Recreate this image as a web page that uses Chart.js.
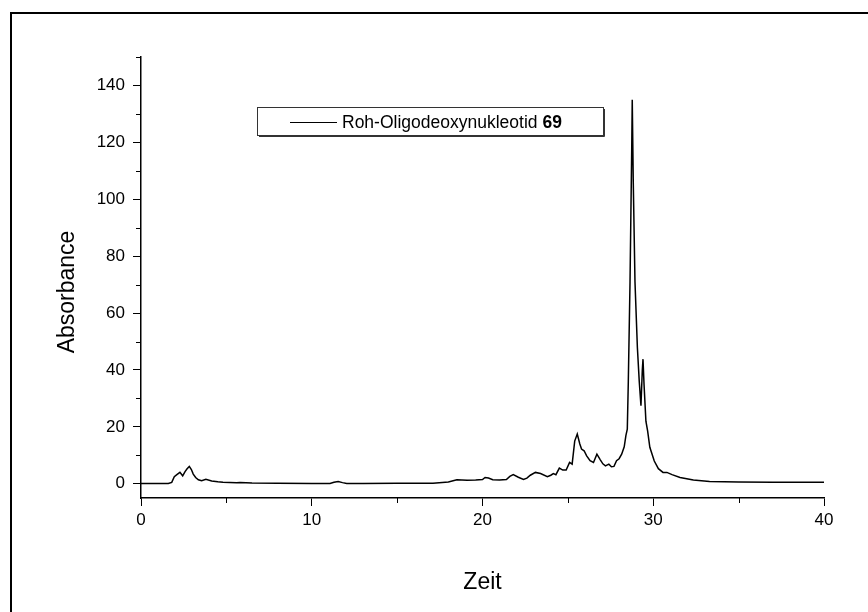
<!DOCTYPE html>
<html>
<head>
<meta charset="utf-8">
<script src="https://cdn.jsdelivr.net/npm/chart.js@4"></script>
<style>
  html, body { margin: 0; padding: 0; background: #fff; }
  #wrap { width: 868px; height: 612px; }
</style>
</head>
<body>
<div id="wrap"><canvas id="c" width="868" height="612"></canvas></div>
<script>
// Retention time (min) and absorbance of the crude oligodeoxynucleotide trace
const times = [
  0, 1.0, 1.6, 1.8, 1.95, 2.1, 2.28, 2.44, 2.58, 2.7, 2.83, 2.95, 3.06, 3.2, 3.36, 3.55, 3.8, 4.14, 4.5, 4.8,
  5.6, 5.8, 6.5, 8, 10, 11.07, 11.3, 11.55, 11.8, 12.05, 13, 15, 16, 17.1, 18, 18.5, 19.1, 19.6, 20.0, 20.15,
  20.35, 20.6, 21.0, 21.4, 21.6, 21.8, 22.1, 22.4, 22.6, 22.8, 23.1, 23.4, 23.8, 24.0, 24.15, 24.3, 24.5, 24.7,
  24.9, 25.1, 25.25, 25.4, 25.55, 25.7, 25.8, 25.95, 26.1, 26.3, 26.5, 26.7, 26.9, 27.05, 27.2, 27.4, 27.55,
  27.7, 27.85, 28.0, 28.15, 28.3, 28.4, 28.48, 28.54, 28.64, 28.74, 28.77, 28.83, 28.93, 29.07, 29.18, 29.28,
  29.36, 29.4, 29.46, 29.57, 29.67, 29.8, 30.06, 30.3, 30.57, 30.8, 31.1, 31.57, 32.35, 33.3, 35, 37, 40
];
const absorbance = [
  0.1, 0.1, 0.1, 0.5, 2.5, 3.2, 4.0, 2.8, 4.3, 5.3, 6.1, 5.0, 3.4, 2.2, 1.4, 1.05, 1.6, 1.0, 0.7, 0.5,
  0.4, 0.45, 0.3, 0.2, 0.1, 0.1, 0.5, 0.8, 0.4, 0.1, 0.1, 0.15, 0.2, 0.2, 0.6, 1.4, 1.2, 1.3, 1.5, 2.2,
  2.0, 1.4, 1.3, 1.5, 2.6, 3.2, 2.3, 1.5, 2.0, 3.0, 4.0, 3.6, 2.5, 3.0, 3.6, 3.2, 5.5, 4.8,
  4.8, 7.5, 6.9, 15, 17.5, 14, 12.2, 11.6, 9.8, 8.1, 7.5, 10.4, 8.4, 7.0, 6.3, 6.9, 6.0,
  6.1, 8.1, 8.8, 10.4, 13, 17.0, 19.2, 36, 71, 118, 135, 106, 71, 48, 36, 27.4,
  40, 43.8, 35, 22, 18.6, 12.8, 8.0, 5.3, 4.0, 4.0, 3.2, 2.2, 1.3, 0.8, 0.6, 0.55, 0.5
];

const xTicks = [0, 10, 20, 30, 40];
const xMinorTicks = [5, 15, 25, 35];
const yTicks = [0, 20, 40, 60, 80, 100, 120, 140];
const yMinorTicks = [10, 30, 50, 70, 90, 110, 130, 150];

const xTitle = 'Zeit';
const yTitle = 'Absorbance';
const seriesName = 'Roh-Oligodeoxynukleotid';
const seriesNumber = '69';

const FONT = '"Liberation Sans", Arial, sans-serif';
const points = times.map((t, i) => ({ x: t, y: absorbance[i] }));

// Minor ticks, axis titles, legend box and page frame
const decorations = {
  id: 'decorations',
  afterDraw(chart) {
    const ctx = chart.ctx;
    const xs = chart.scales.x, ys = chart.scales.y;
    const area = chart.chartArea;
    ctx.save();
    ctx.strokeStyle = '#000';
    ctx.lineWidth = 1;
    ctx.beginPath();
    xMinorTicks.forEach(v => {
      const px = Math.round(xs.getPixelForValue(v)) + 0.5;
      ctx.moveTo(px, area.bottom);
      ctx.lineTo(px, area.bottom + 5);
    });
    yMinorTicks.forEach(v => {
      const py = Math.round(ys.getPixelForValue(v)) + 0.5;
      ctx.moveTo(area.left, py);
      ctx.lineTo(area.left - 5, py);
    });
    ctx.stroke();

    // axis titles
    ctx.fillStyle = '#000';
    ctx.font = '23px ' + FONT;
    ctx.textAlign = 'center';
    ctx.textBaseline = 'middle';
    ctx.fillText(xTitle, (area.left + area.right) / 2, 583);
    ctx.save();
    ctx.translate(68, 292);
    ctx.rotate(-Math.PI / 2);
    ctx.fillText(yTitle, 0, 0);
    ctx.restore();

    // legend
    const bx = 257, by = 107, bw = 346, bh = 28;
    ctx.fillStyle = '#fff';
    ctx.fillRect(bx, by, bw, bh);
    ctx.strokeStyle = '#333';
    ctx.lineWidth = 1;
    ctx.strokeRect(bx + 0.5, by + 0.5, bw, bh);
    ctx.beginPath();
    ctx.moveTo(bx + bw + 1.5, by + 2);
    ctx.lineTo(bx + bw + 1.5, by + bh + 1.5);
    ctx.lineTo(bx + 2, by + bh + 1.5);
    ctx.stroke();
    ctx.strokeStyle = '#000';
    ctx.lineWidth = 1.2;
    ctx.beginPath();
    ctx.moveTo(290, 122.5);
    ctx.lineTo(337, 122.5);
    ctx.stroke();
    ctx.fillStyle = '#000';
    ctx.textAlign = 'left';
    ctx.textBaseline = 'alphabetic';
    ctx.font = '17.5px ' + FONT;
    const label = seriesName + ' ';
    ctx.fillText(label, 342, 128);
    const w = ctx.measureText(label).width;
    ctx.font = 'bold 17.5px ' + FONT;
    ctx.fillText(seriesNumber, 342 + w, 128);

    // page frame (runs off the right and bottom edges)
    ctx.strokeStyle = '#000';
    ctx.lineWidth = 2;
    ctx.beginPath();
    ctx.moveTo(11, 700);
    ctx.lineTo(11, 13);
    ctx.lineTo(900, 13);
    ctx.stroke();
    ctx.restore();
  }
};

const tickFont = { family: FONT, size: 17 };

new Chart(document.getElementById('c'), {
  type: 'line',
  data: {
    datasets: [{
      label: seriesName + ' ' + seriesNumber,
      data: points,
      borderColor: '#000',
      borderWidth: 1.5,
      pointRadius: 0,
      tension: 0,
      fill: false
    }]
  },
  options: {
    responsive: false,
    animation: false,
    devicePixelRatio: 1,
    layout: { padding: { left: 0, top: 57, right: 44, bottom: 0 } },
    plugins: { legend: { display: false }, tooltip: { enabled: false } },
    scales: {
      x: {
        type: 'linear',
        min: 0,
        max: 40,
        afterBuildTicks: s => { s.ticks = xTicks.map(v => ({ value: v })); },
        afterFit: s => { s.height = 114; },
        grid: { drawOnChartArea: false, drawTicks: true, tickLength: 8, tickColor: '#000', tickWidth: 1 },
        border: { display: true, color: '#000', width: 1.5 },
        ticks: { font: tickFont, color: '#000', padding: 4, maxRotation: 0, autoSkip: false }
      },
      y: {
        type: 'linear',
        min: -5,
        max: 150,
        afterBuildTicks: s => { s.ticks = yTicks.map(v => ({ value: v })); },
        afterFit: s => { s.width = 141; },
        grid: { drawOnChartArea: false, drawTicks: true, tickLength: 8, tickColor: '#000', tickWidth: 1 },
        border: { display: true, color: '#000', width: 1.5 },
        ticks: { font: tickFont, color: '#000', padding: 8, autoSkip: false }
      }
    }
  },
  plugins: [decorations]
});
</script>
</body>
</html>
